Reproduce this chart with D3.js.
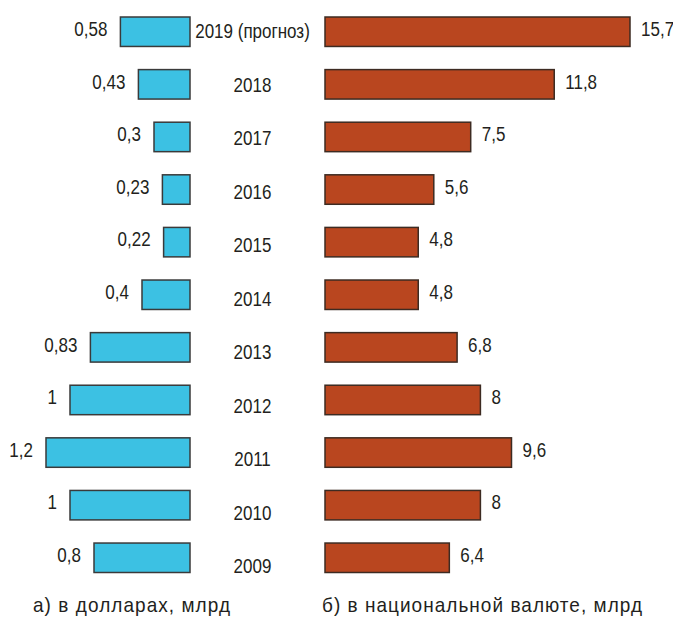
<!DOCTYPE html>
<html>
<head>
<meta charset="utf-8">
<script src="https://cdn.jsdelivr.net/npm/d3@7"></script>
<style>
	body { margin: 0; background: #fff; }
	text { font-family: "Liberation Sans", Arial, sans-serif; fill: #231f20; }
</style>
</head>
<body>
<div id="chart"></div>
<script>
// data, top to bottom
var years = ["2019 (прогноз)", "2018", "2017", "2016", "2015", "2014", "2013", "2012", "2011", "2010", "2009"];
var usdValues = [0.58, 0.43, 0.3, 0.23, 0.22, 0.4, 0.83, 1, 1.2, 1, 0.8];
var natValues = [15.7, 11.8, 7.5, 5.6, 4.8, 4.8, 6.8, 8, 9.6, 8, 6.4];
var captions = ["а) в долларах, млрд", "б) в национальной валюте, млрд"];

var ctx = {
	width: 673,
	height: 617,
	FONT: 21,
	SX: 0.81, // narrow type, squeezed horizontally
};

function fmt(v) {
	return String(v).replace(".", ",");
}

function narrow(x, y, sx) {
	return "translate(" + x + "," + y + ") scale(" + (sx || ctx.SX) + ",1)";
}

function createChart() {
	var svg = d3.select("#chart")
		.append("svg")
		.attr("width", ctx.width)
		.attr("height", ctx.height);

	ctx.yscale = d3.scaleBand()
		.domain(years)
		.range([17, 572.5])
		.paddingInner(0.44)
		.paddingOuter(0);

	// year labels sit a bit lower than bar centers further down
	ctx.ylabel = d3.scalePoint()
		.domain(years)
		.range([38, 573]);

	ctx.xleft = d3.scaleLinear()
		.domain([0, 1.2])
		.range([190, 46]);

	ctx.xright = d3.scaleLinear()
		.domain([0, 15.7])
		.range([325, 630]);

	var usdData = years.map((y, i) => ({ year: y, value: usdValues[i] }));
	var natData = years.map((y, i) => ({ year: y, value: natValues[i] }));

	// left bars (dollars)
	svg.append("g")
		.selectAll("rect")
		.data(usdData)
		.join("rect")
		.attr("x", (d) => ctx.xleft(d.value))
		.attr("y", (d) => ctx.yscale(d.year))
		.attr("width", (d) => ctx.xleft(0) - ctx.xleft(d.value))
		.attr("height", ctx.yscale.bandwidth())
		.attr("fill", "#3cc1e3")
		.attr("stroke", "#3a3a3a")
		.attr("stroke-width", 1.5);

	svg.append("g")
		.selectAll("text")
		.data(usdData)
		.join("text")
		.attr("transform", (d) => narrow(ctx.xleft(d.value) - 13, ctx.yscale(d.year) + 19))
		.attr("text-anchor", "end")
		.style("font-size", ctx.FONT + "px")
		.text((d) => fmt(d.value));

	// right bars (national currency)
	svg.append("g")
		.selectAll("rect")
		.data(natData)
		.join("rect")
		.attr("x", ctx.xright(0))
		.attr("y", (d) => ctx.yscale(d.year))
		.attr("width", (d) => ctx.xright(d.value) - ctx.xright(0))
		.attr("height", ctx.yscale.bandwidth())
		.attr("fill", "#b9461f")
		.attr("stroke", "#3d2b22")
		.attr("stroke-width", 1.5);

	svg.append("g")
		.selectAll("text")
		.data(natData)
		.join("text")
		.attr("transform", (d) => narrow(ctx.xright(d.value) + 11, ctx.yscale(d.year) + 19))
		.style("font-size", ctx.FONT + "px")
		.text((d) => fmt(d.value));

	// year labels in the middle
	svg.append("g")
		.selectAll("text")
		.data(years)
		.join("text")
		.attr("transform", (d) => narrow(252.5, ctx.ylabel(d)))
		.attr("text-anchor", "middle")
		.style("font-size", ctx.FONT + "px")
		.text((d) => d);

	// captions
	svg.append("text")
		.attr("transform", narrow(33, 612, 0.95))
		.attr("textLength", 197 / 0.95)
		.attr("lengthAdjust", "spacing")
		.style("font-size", "20px")
		.text(captions[0]);

	svg.append("text")
		.attr("transform", narrow(322, 612, 0.95))
		.attr("textLength", 320 / 0.95)
		.attr("lengthAdjust", "spacing")
		.style("font-size", "20px")
		.text(captions[1]);
}

createChart();
</script>
</body>
</html>
